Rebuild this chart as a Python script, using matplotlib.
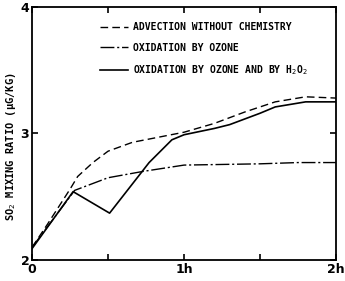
import numpy as np
import matplotlib.pyplot as plt

# time in hours
t_adv = [0, 0.1, 0.25, 0.3, 0.4, 0.5, 0.66, 0.83, 1.0, 1.2, 1.4, 1.6, 1.8, 2.0]
so2_adv = [2.10, 2.28, 2.56, 2.66, 2.77, 2.86, 2.93, 2.97, 3.01, 3.08, 3.17, 3.25, 3.29, 3.28]

t_o3 = [0, 0.1, 0.28, 0.5, 0.73, 1.0, 1.25, 1.5, 1.75, 2.0]
so2_o3 = [2.10, 2.26, 2.55, 2.65, 2.70, 2.75, 2.755, 2.76, 2.77, 2.77]

t_h2o2 = [0, 0.09, 0.27, 0.51, 0.77, 0.92, 1.0, 1.2, 1.3, 1.5, 1.6, 1.8, 2.0]
so2_h2o2 = [2.09, 2.24, 2.54, 2.37, 2.77, 2.95, 2.99, 3.04, 3.07, 3.16, 3.21, 3.25, 3.25]

labels = ['ADVECTION WITHOUT CHEMISTRY', 'OXIDATION BY OZONE',
          'OXIDATION BY OZONE AND BY H$_2$O$_2$']

plt.rcParams['font.family'] = 'DejaVu Sans Mono'
fig = plt.figure(figsize=(3.45, 2.81), dpi=100)
ax = fig.add_axes([0.093, 0.075, 0.881, 0.90])

ax.plot(t_adv, so2_adv, color='black', lw=1.0, ls=(0, (5.5, 3)), label=labels[0])
ax.plot(t_o3, so2_o3, color='black', lw=1.0, ls=(0, (10, 2, 1.5, 2)), label=labels[1])
ax.plot(t_h2o2, so2_h2o2, color='black', lw=1.2, ls='-', label=labels[2])

ax.set_xlim(0, 2)
ax.set_ylim(2, 4)
ax.set_xticks([0, 0.5, 1, 1.5, 2])
ax.set_xticklabels(['0', '', '1h', '', '2h'], fontsize=9, fontweight='bold',
                   family='DejaVu Sans')
ax.set_yticks([2, 3, 4])
ax.set_yticklabels(['2', '3', '4'], fontsize=9, fontweight='bold', family='DejaVu Sans')
ax.tick_params(direction='in', top=True, right=True, length=4, width=1.2, pad=2)
for s in ax.spines.values():
    s.set_linewidth(1.3)

ax.set_ylabel('SO$_2$ MIXING RATIO (\u03bcG/KG)', fontsize=7.5, fontweight='bold', va='center')
ax.yaxis.set_label_coords(-0.069, 0.447)

ax.legend(loc='upper left', bbox_to_anchor=(0.195, 0.975), frameon=False,
          handlelength=2.9, handletextpad=0.5, labelspacing=1.1,
          prop={'weight': 'bold', 'size': 7})

plt.savefig('out.png', dpi=100)
